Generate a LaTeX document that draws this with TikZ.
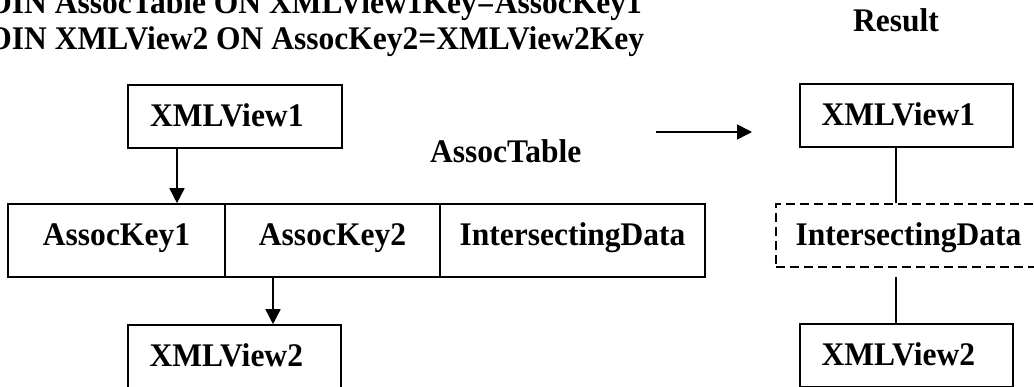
\documentclass[tikz,border=0pt]{standalone}
\usepackage{fontspec}
\setmainfont{Liberation Serif}[FakeStretch=0.955]
\usetikzlibrary{arrows.meta}

\begin{document}
\begin{tikzpicture}[x=1pt,y=-1pt,
  every node/.style={font=\fontsize{33}{36}\selectfont\bfseries},
  box/.style={draw,line width=1.6pt,inner sep=0pt,minimum width=214pt,
    minimum height=63pt,text height=22pt,text depth=2pt},
  viewbox/.style={box,minimum width=213pt,text width=170pt,align=left},
  keybox/.style={box,minimum height=73pt,text depth=12pt},
  arr/.style={line width=1.6pt,-{Triangle[width=15pt,length=15pt]}},
  link/.style={line width=1.6pt}]
\useasboundingbox (0,0) rectangle (1034,387);
\clip (0,0) rectangle (1034,387);

\node[anchor=base west,inner sep=0pt] (title1) at (-28.5,14) {JOIN AssocTable ON XMLView1Key=AssocKey1};
\node[anchor=base west,inner sep=0pt] (title2) at (-28.5,50) {JOIN XMLView2 ON AssocKey2=XMLView2Key};
\node[anchor=base west,inner sep=0pt] (result) at (853,32) {Result};
\node[anchor=base west,inner sep=0pt] (assoc) at (430,163) {AssocTable};

% left side
\node[viewbox,minimum width=214pt] (lv1) at (235,116.5) {XMLView1};
\node[keybox,minimum width=217pt] (key1) at (116.5,240.5) {AssocKey1};
\node[keybox,minimum width=215pt] (key2) at (332.5,240.5) {AssocKey2};
\node[keybox,minimum width=265pt] (idata) at (572.5,240.5) {IntersectingData};
\node[viewbox] (lv2) at (234.5,356.5) {XMLView2};

\coordinate (a1) at ([xshift=-58pt]lv1.south);
\draw[arr] (a1) -- (a1 |- key1.north);
\coordinate (a2) at ([xshift=-59.5pt]key2.south);
\draw[arr] (a2) -- (a2 |- lv2.north);

% join arrow
\coordinate (jstart) at (656,132);
\coordinate (jend) at (752,132);
\draw[arr] (jstart) -- (jend);

% result side
\node[viewbox] (rv1) at (906.5,115.5) {XMLView1};
\node[box,dashed,dash pattern=on 9pt off 5pt,minimum width=265pt] (rdata) at (908.5,235.5) {IntersectingData};
\node[viewbox] (rv2) at (906.5,355.5) {XMLView2};

\coordinate (b1) at ([xshift=-10.5pt]rv1.south);
\draw[link] (b1) -- (b1 |- rdata.north);
\coordinate (b2) at ([xshift=-12.5pt,yshift=-9pt]rdata.south);
\draw[link] (b2) -- (b2 |- rv2.north);
\end{tikzpicture}
\end{document}
